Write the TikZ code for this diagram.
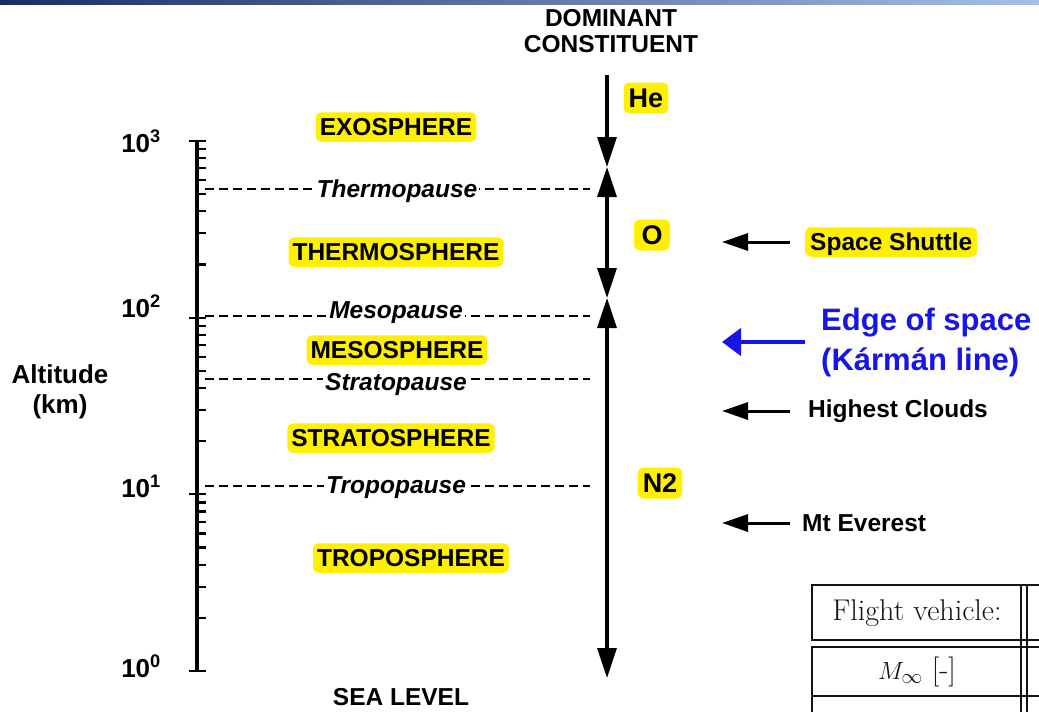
\documentclass[tikz,border=0pt]{standalone}
\usepackage{fontspec}
\setsansfont{Liberation Sans}
\usepackage{tikz}
\usetikzlibrary{arrows.meta, positioning, calc}
\definecolor{Hilite}{RGB}{255,240,0}
\definecolor{Edgeblue}{RGB}{22,22,232}
\definecolor{Barnavy}{RGB}{25,45,100}
\definecolor{Barlight}{RGB}{165,192,228}
\definecolor{Tabgray}{RGB}{20,20,20}

\begin{document}
\begin{tikzpicture}[
  x=1pt, y=-1pt,
  font=\sffamily\bfseries,
  layer/.style={fill=Hilite, rounded corners=6pt, inner xsep=4pt, inner ysep=6pt,
                text height=17.5pt, text depth=0pt,
                font=\sffamily\bfseries\fontsize{24.5}{27}\selectfont},
  gas/.style={layer, inner xsep=5pt, minimum width=36pt, text height=19pt,
              font=\sffamily\bfseries\fontsize{27}{29}\selectfont},
  sidelbl/.style={inner sep=1pt, font=\sffamily\bfseries\fontsize{24.5}{27}\selectfont},
  decade/.style={inner sep=0pt, font=\sffamily\bfseries\fontsize{26}{28}\selectfont},
  pauselbl/.style={fill=white, inner xsep=2pt, inner ysep=1pt,
                   font=\sffamily\bfseries\itshape\fontsize{24.5}{27}\selectfont},
  boundary/.style={dash pattern=on 9pt off 5pt, line width=2.2pt},
  axis/.style={line width=3.2pt},
  tick/.style={line width=2.2pt},
  gasarr/.style={line width=3.2pt, >={Triangle[length=30pt, width=19pt]}},
  pointer/.style={line width=3pt, -{Triangle[length=26pt, width=17pt]}},
  bluearr/.style={line width=4.5pt, draw=Edgeblue, -{Triangle[length=19pt, width=27pt]}},
  rule/.style={line width=2pt, draw=Tabgray}
]
\useasboundingbox (0,0) rectangle (1039,712);

%% ——— Barra superior ———
\shade[left color=Barnavy, right color=Barlight] (0,0) rectangle (1039,4);

%% ——— Titulo ———
\node[sidelbl, anchor=base] (dom)  at (611,27) {DOMINANT};
\node[sidelbl, anchor=base] (cons) at (611,52) {CONSTITUENT};

%% ——— Eje de altitud (log) ———
\coordinate (ytop) at (197,141);
\coordinate (ybot) at (197,671);
\draw[axis] (ytop) -- (ybot);
\foreach \d in {0,1,2}
  \foreach \m in {2,...,9}
    \draw[tick] (197,{671-176.67*(\d+log10(\m))}) -- ++(9,0);
\foreach \d in {0,...,3}
  \draw[tick] (189,{671-176.67*\d}) -- ++(17,0);

\node[decade, anchor=base east] (e3) at (161,152) {10\textsuperscript{3}};
\node[decade, anchor=base east] (e2) at (161,317) {10\textsuperscript{2}};
\node[decade, anchor=base east] (e1) at (161,497) {10\textsuperscript{1}};
\node[decade, anchor=base east] (e0) at (161,677) {10\textsuperscript{0}};

\node[sidelbl, align=center, font=\sffamily\bfseries\fontsize{26}{30}\selectfont]
  (alt) at (60,392) {Altitude\\(km)};
\node[sidelbl] (sea) at (401,697) {SEA LEVEL};

%% ——— Limites entre capas ———
\coordinate (thL) at (205,189); \coordinate (thR) at (590,189);
\coordinate (meL) at (205,316); \coordinate (meR) at (590,316);
\coordinate (stL) at (205,379); \coordinate (stR) at (590,379);
\coordinate (trL) at (205,486); \coordinate (trR) at (590,486);
\draw[boundary] (thL) -- (thR);
\draw[boundary] (meL) -- (meR);
\draw[boundary] (stL) -- (stR);
\draw[boundary] (trL) -- (trR);

\node[pauselbl, anchor=base] (thermo) at (397,197) {Thermopause};
\node[pauselbl, anchor=base] (meso)   at (396,318) {Mesopause};
\node[pauselbl, anchor=base] (strato) at (396,390) {Stratopause};
\node[pauselbl, anchor=base] (tropo)  at (396,493) {Tropopause};

%% ——— Capas ———
\node[layer] (exo)  at (396,127) {EXOSPHERE};
\node[layer] (ther) at (396,252) {THERMOSPHERE};
\node[layer] (mes)  at (397,350) {MESOSPHERE};
\node[layer] (str)  at (391,438) {STRATOSPHERE};
\node[layer] (tro)  at (411,558) {TROPOSPHERE};

%% ——— Constituyente dominante ———
\coordinate (g0) at (607,75);
\coordinate (g1) at (607,167);
\coordinate (g2) at (607,298);
\coordinate (g3) at (607,678);
\draw[gasarr, ->]  (g0) -- (g1);
\draw[gasarr, <->] (g1) -- (g2);
\draw[gasarr, <->] (g2) -- (g3);

\node[gas] (he) at (646,98)  {He};
\node[gas] (ox) at (652,235) {O};
\node[gas] (ni) at (660,483) {N2};

%% ——— Referencias a la derecha ———
\coordinate (aim) at (722,0);
\node[layer, anchor=west, inner xsep=5pt] (shuttle) at (805,242) {Space Shuttle};
\node[sidelbl, anchor=west] (clouds)  at (807,411) {Highest Clouds};
\node[sidelbl, anchor=west] (everest) at (801,523) {Mt Everest};
\node[anchor=west, align=left, inner sep=1pt, text=Edgeblue,
      font=\sffamily\bfseries\fontsize{31}{40}\selectfont]
  (karman) at (820,342) {Edge of space\\(Kármán line)};

\draw[pointer] ([xshift=-15pt]shuttle.west) -- (shuttle.west -| aim);
\draw[pointer] ([xshift=-17pt]clouds.west)  -- (clouds.west -| aim);
\draw[pointer] ([xshift=-11pt]everest.west) -- (everest.west -| aim);
\draw[bluearr] ([xshift=-15pt]karman.west)  -- (karman.west -| aim);

%% ——— Tabla (recortada) ———
\draw[rule] (1045,585) -- (812,585) -- (812,640) -- (1045,640);
\draw[rule] (1045,647) -- (812,647) -- (812,720);
\draw[rule] (812,696) -- (1045,696);
\draw[rule] (1021,585) -- (1021,720);
\draw[rule] (1027,585) -- (1027,720);
\node[text=Tabgray, font=\rmfamily\mdseries\fontsize{30}{32}\selectfont]
  (flight) at (917,613) {Flight vehicle:};
\node[text=Tabgray, font=\rmfamily\mdseries\fontsize{30}{32}\selectfont]
  (mach) at (917,672) {$M_\infty$ [-]};

\end{tikzpicture}
\end{document}
